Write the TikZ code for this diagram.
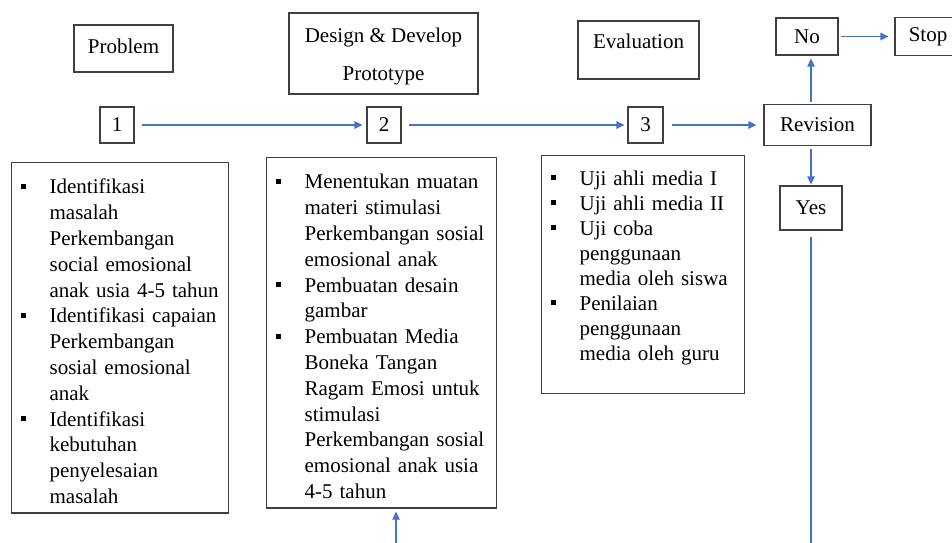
\documentclass[tikz,border=0pt]{standalone}
\usepackage{fontspec}
\IfFontExistsTF{LiberationSerif-Regular.ttf}
  {\setmainfont{LiberationSerif-Regular.ttf}}
  {\setmainfont{Liberation Serif}}
\usetikzlibrary{arrows.meta}
\definecolor{flowblue}{RGB}{68,114,196}
% square bullet with hanging indent
\newcommand{\bitem}{\par\noindent\hangindent=32pt\hangafter=1\makebox[32pt][l]{\hspace{3pt}\rule[5pt]{5pt}{5pt}}}
% invisible depth below a last line
\newcommand{\lowend}[1]{\rule[-#1]{0pt}{1pt}}

\begin{document}
\begin{tikzpicture}[x=1pt,y=-1pt]
\tikzset{box/.style=
            {draw=black!75,line width=1.2pt,inner sep=0pt,font=\rmfamily\fontsize{21}{25}\selectfont},
         listbox/.style=
            {box,anchor=north west,inner xsep=6pt,inner ysep=5.5pt,font=\rmfamily\fontsize{21}{25.8}\selectfont},
         flow/.style=
            {draw=flowblue,line width=1.2pt,-{Triangle[length=8pt,width=7.5pt]}}}
\useasboundingbox (0,0) rectangle (952,542);

% stage titles
\node[box,minimum width=99pt,minimum height=47pt,text depth=5.5pt] (problem) at (123.5,48.5) {Problem};
\node[box,minimum width=189pt,minimum height=81pt,align=center] (design) at (383.5,53.5) {\rule{0pt}{20.5pt}Design \& Develop\\[13pt]Prototype};
\node[box,minimum width=121pt,minimum height=58pt,text depth=18pt] (evaluation) at (638.5,50) {Evaluation};

% steps
\node[box,minimum width=34pt,minimum height=36pt] (n1) at (117,125) {1};
\node[box,minimum width=34pt,minimum height=36pt] (n2) at (384,125) {2};
\node[box,minimum width=35pt,minimum height=36pt] (n3) at (645.5,125) {3};
\node[box,minimum width=107pt,minimum height=41pt] (revision) at (817.5,125) {Revision};
\node[box,minimum width=62pt,minimum height=37pt] (no) at (807,36.5) {No};
\node[box,minimum width=66pt,minimum height=38pt] (stop) at (928,36.5) {Stop};
\node[box,minimum width=62pt,minimum height=44pt] (yes) at (811,208) {Yes};

% step contents
\node[listbox,text width=205pt] (l1) at (11,162) {%
\bitem Identifikasi\newline masalah\newline Perkembangan\newline social emosional\newline anak usia 4-5 tahun
\bitem Identifikasi capaian\newline Perkembangan\newline sosial emosional\newline anak
\bitem Identifikasi\newline kebutuhan\newline penyelesaian\newline masalah\lowend{4pt}\par};
\node[listbox,text width=218pt] (l2) at (266,157) {%
\bitem Menentukan muatan\newline materi stimulasi\newline Perkembangan sosial\newline emosional anak
\bitem Pembuatan desain\newline gambar
\bitem Pembuatan Media\newline Boneka Tangan\newline Ragam Emosi untuk\newline stimulasi\newline Perkembangan sosial\newline emosional anak usia\newline 4-5 tahun\lowend{4pt}\par};
\node[listbox,text width=191pt,inner ysep=4.5pt,font=\rmfamily\fontsize{21}{25}\selectfont] (l3) at (541,155) {%
\bitem Uji ahli media I
\bitem Uji ahli media II
\bitem Uji coba\newline penggunaan\newline media oleh siswa
\bitem Penilaian\newline penggunaan\newline media oleh guru\lowend{28.5pt}\par};

\coordinate (yesend) at (811,560);
\coordinate (feed) at (396,560);

\draw[flow,shorten <=7pt,shorten >=4pt] (n1) -- (n2);
\draw[flow,shorten <=7pt,shorten >=3pt] (n2) -- (n3);
\draw[flow,shorten <=8pt,shorten >=7pt] (n3) -- (revision);
\draw[flow,shorten <=2pt,shorten >=3pt] (revision.north -| yes) -- (no.south -| yes);
\draw[flow,shorten <=2pt,shorten >=6pt] (no) -- (stop);
\draw[flow,shorten <=3pt,shorten >=1pt] (revision.south -| yes) -- (yes);
\draw[draw=flowblue,line width=1.2pt,shorten <=6pt] (yes) -- (yesend);
\draw[flow,shorten >=3pt] (feed) -- (feed |- l2.south);
\end{tikzpicture}
\end{document}
